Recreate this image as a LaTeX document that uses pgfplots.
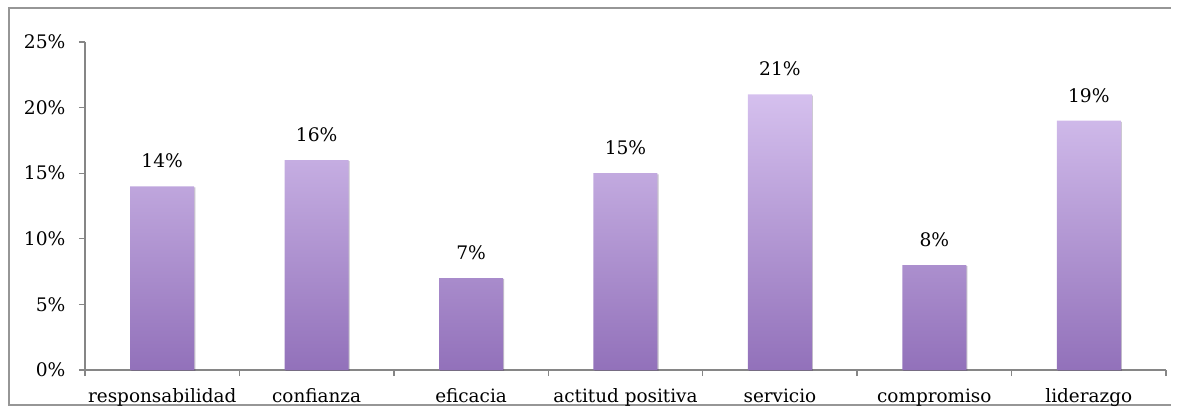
\documentclass[border=0pt]{standalone}
\usepackage{fontspec}
\setmainfont{DejaVu Serif}
\usepackage{pgfplots}
\pgfplotsset{compat=1.18}
\usetikzlibrary{shadows}

\definecolor{axisgray}{RGB}{134,134,134}
\definecolor{framegray}{RGB}{150,150,150}
\definecolor{bartop}{RGB}{213,192,238}
\definecolor{barbot}{RGB}{146,113,186}

\begin{document}
\begin{tikzpicture}
\useasboundingbox (0pt,0pt) rectangle (887.25pt,306pt);
\clip (0pt,0pt) rectangle (887.25pt,306pt);
% chart frame, open on the right
\draw[framegray, line width=1.5pt] (878pt,300pt) -- (6.75pt,300pt) -- (6.75pt,2.25pt) -- (878pt,2.25pt);
\begin{axis}[
  at={(63.75pt,28.5pt)}, anchor=south west,
  scale only axis, width=810.75pt, height=246pt,
  xmin=-0.5, xmax=6.5, ymin=0, ymax=25,
  axis x line*=bottom, axis y line*=left,
  axis line style={axisgray, line width=1pt, -},
  tick align=outside, major tick length=4.5pt,
  tick style={axisgray, line width=1pt},
  ytick={0,5,...,25},
  yticklabel={\pgfmathprintnumber{\tick}\%},
  /pgf/number format/assume math mode=true,
  yticklabel style={font=\fontsize{14}{16}\selectfont, inner sep=0pt, xshift=-10pt},
  xtick={-0.5,0.5,...,6.5}, xticklabels={},
  extra x ticks={0,1,2,3,4,5,6},
  extra x tick labels={responsabilidad, confianza, eficacia, actitud positiva, servicio, compromiso, liderazgo},
  extra x tick style={major tick length=0pt, xticklabel style={font=\fontsize{13.8}{16}\selectfont, anchor=base, inner sep=0pt, yshift=-24pt}},
  ybar, bar width=48pt,
  nodes near coords={\pgfmathprintnumber{\pgfplotspointmeta}\%},
  nodes near coords style={font=\fontsize{14}{16}\selectfont, black, anchor=south, inner sep=0pt, yshift=13.5pt},
]
\addplot[draw=none, top color=bartop, bottom color=barbot,
  drop shadow={shadow xshift=0.8pt, shadow yshift=-0.8pt, opacity=0.2, fill=black}]
  coordinates {(0,14) (1,16) (2,7) (3,15) (4,21) (5,8) (6,19)};
\end{axis}
\end{tikzpicture}
\end{document}
